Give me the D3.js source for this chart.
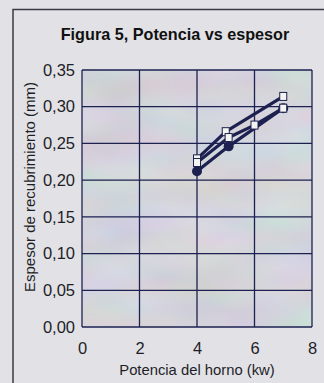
<!DOCTYPE html>
<html><head><meta charset="utf-8">
<script src="https://cdn.jsdelivr.net/npm/d3@7"></script>
<style>body{margin:0;background:#e2e2e6;} svg{display:block}</style>
</head><body>
<script>
const title = "Figura 5, Potencia vs espesor";
const xLabel = "Potencia del horno (kw)";
const yLabel = "Espesor de recubrimiento (mm)";
const xTicks = [0, 2, 4, 6, 8];
const yTicks = [0, 0.05, 0.10, 0.15, 0.20, 0.25, 0.30, 0.35];
// three measured series
const xA = [4, 5, 7];
const yA = [0.229, 0.266, 0.314];
const xB = [4, 5.1, 6, 7];
const yB = [0.224, 0.258, 0.275, 0.298];
const xC = [4, 5.1, 7];
const yC = [0.212, 0.246, 0.298];

const W = 324, H = 383;
const svg = d3.select("body").append("svg").attr("width", W).attr("height", H);
const defs = svg.append("defs");

// mottled plot background
const f = defs.append("filter").attr("id", "mottle").attr("x", 0).attr("y", 0).attr("width", 1).attr("height", 1);
f.append("feTurbulence").attr("type", "fractalNoise").attr("baseFrequency", "0.012 0.03").attr("numOctaves", 2).attr("seed", 7).attr("result", "n");
f.append("feColorMatrix").attr("in", "n").attr("type", "matrix")
  .attr("values", "0.26 0 0 0 0.56  0 0.24 0 0 0.57  0 0 0.22 0 0.63  0 0 0 0 1").attr("result", "c");
f.append("feComposite").attr("in", "c").attr("in2", "SourceGraphic").attr("operator", "in");

const x = d3.scaleLinear().domain([0, 8]).range([82, 312]);
const y = d3.scaleLinear().domain([0, 0.35]).range([327, 70]);
const fmt = v => d3.format(".2f")(v).replace(".", ",");
const navy = "#1d2150";
const font = "Liberation Sans, Arial, sans-serif";

// frame
svg.append("path").attr("d", "M13,383 V9.5 H324").attr("fill", "none").attr("stroke", "#3a3a44").attr("stroke-width", 1.5);

// plot background
svg.append("rect").attr("x", x(0)).attr("y", y(0.35)).attr("width", x(8) - x(0)).attr("height", y(0) - y(0.35))
  .attr("fill", "#b2b2be");
svg.append("rect").attr("x", x(0)).attr("y", y(0.35)).attr("width", x(8) - x(0)).attr("height", y(0) - y(0.35))
  .attr("fill", "#b2b2be").attr("filter", "url(#mottle)").attr("opacity", 0.9);

// grid
const g = svg.append("g");
g.selectAll("line.h").data(yTicks).join("line")
  .attr("x1", x(0)).attr("x2", x(8)).attr("y1", d => y(d)).attr("y2", d => y(d))
  .attr("stroke", navy).attr("stroke-width", 1.3);
g.selectAll("line.v").data(xTicks).join("line")
  .attr("y1", y(0)).attr("y2", y(0.35)).attr("x1", d => x(d)).attr("x2", d => x(d))
  .attr("stroke", navy).attr("stroke-width", 1.3);

// axes labels via d3 axes
const yAxis = svg.append("g").attr("transform", `translate(${x(0)},0)`)
  .call(d3.axisLeft(y).tickValues(yTicks).tickFormat(fmt).tickSize(0).tickPadding(7));
const xAxis = svg.append("g").attr("transform", `translate(0,${y(0)})`)
  .call(d3.axisBottom(x).tickValues(xTicks).tickFormat(d3.format("d")).tickSize(0).tickPadding(15));
[yAxis, xAxis].forEach(a => {
  a.select(".domain").remove();
  a.selectAll("text").attr("font-family", font).attr("font-size", 16.5).attr("fill", "#1e1e26");
});

// title & axis titles
svg.append("text").attr("x", 175).attr("y", 40).attr("text-anchor", "middle")
  .attr("font-family", font).attr("font-weight", "bold").attr("font-size", 16.2)
  .attr("fill", "#111").text(title);
svg.append("text").attr("x", 197).attr("y", 375).attr("text-anchor", "middle")
  .attr("font-family", font).attr("font-size", 14.8).attr("fill", "#1e1e26").text(xLabel);
svg.append("text").attr("transform", "translate(35,187) rotate(-90)").attr("text-anchor", "middle")
  .attr("font-family", font).attr("font-size", 15).attr("fill", "#1e1e26").text(yLabel);

// series
const line = d3.line().x(d => x(d[0])).y(d => y(d[1]));
const series = [
  { xs: xA, ys: yA, marker: "square" },
  { xs: xB, ys: yB, marker: "square" },
  { xs: xC, ys: yC, marker: "circle" }
];
series.forEach(s => {
  const pts = s.xs.map((v, i) => [v, s.ys[i]]);
  svg.append("path").datum(pts).attr("d", line).attr("fill", "none")
    .attr("stroke", navy).attr("stroke-width", 3.2).attr("stroke-linejoin", "round");
});
const cpts = xC.map((v, i) => [v, yC[i]]);
svg.selectAll("circle.c").data(cpts).join("circle")
  .attr("cx", d => x(d[0])).attr("cy", d => y(d[1])).attr("r", 5).attr("fill", navy);
[series[0], series[1]].forEach(s => {
  const pts = s.xs.map((v, i) => [v, s.ys[i]]);
  svg.append("g").selectAll("rect").data(pts).join("rect")
    .attr("x", d => x(d[0]) - 3.5).attr("y", d => y(d[1]) - 4).attr("width", 7).attr("height", 8)
    .attr("fill", "#f4f4f0").attr("stroke", navy).attr("stroke-width", 1);
});
</script>
</body></html>
